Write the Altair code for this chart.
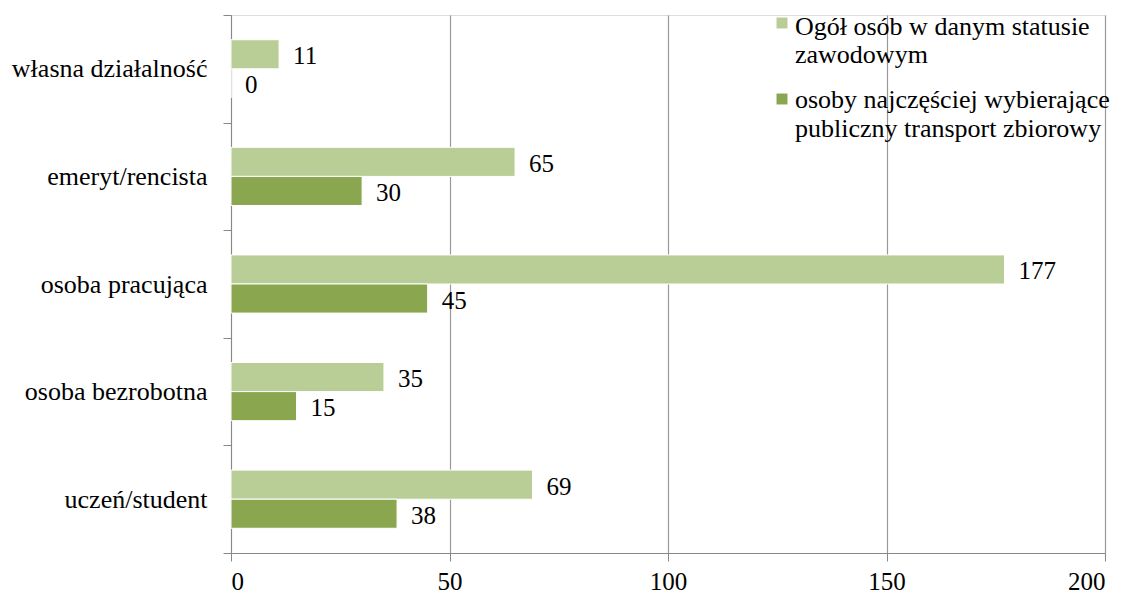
import altair as alt
import pandas as pd

categories = ["własna działalność", "emeryt/rencista", "osoba pracująca", "osoba bezrobotna", "uczeń/student"]
series_names = ["Ogół osób w danym statusie zawodowym", "osoby najczęściej wybierające publiczny transport zbiorowy"]
total_values = [11, 65, 177, 35, 69]
public_values = [0, 30, 45, 15, 38]
colors = ["#B9CD96", "#8AA64E"]
legend_lines = [["Ogół osób w danym statusie", "zawodowym"],
                ["osoby najczęściej wybierające", "publiczny transport zbiorowy"]]

rows = []
for c, t, p in zip(categories, total_values, public_values):
    rows.append({"cat": c, "series": series_names[0], "value": t})
    rows.append({"cat": c, "series": series_names[1], "value": p})
df = pd.DataFrame(rows)

FONT = "'Times New Roman', 'Liberation Serif', 'DejaVu Serif', serif"
W, H = 874, 538

y_enc = alt.Y("cat:N", sort=categories, title=None,
              scale=alt.Scale(paddingInner=0, paddingOuter=0),
              axis=alt.Axis(tickBand="extent", domainColor="#888888", tickColor="#888888",
                            tickSize=8, labelFont=FONT, labelFontSize=26, labelColor="#000000",
                            labelPadding=16, labelLimit=400, grid=False))
yoff = alt.YOffset("series:N", sort=series_names,
                   scale=alt.Scale(paddingOuter=0.85, paddingInner=0))

bars = alt.Chart(df).mark_bar(stroke="white", strokeWidth=1).encode(
    x=alt.X("value:Q", title=None,
            scale=alt.Scale(domain=[0, 200], nice=False),
            axis=alt.Axis(values=[0, 50, 100, 150, 200], grid=True, gridColor="#999999",
                          gridWidth=1.2, domainColor="#888888", tickColor="#888888",
                          tickSize=8, labelFont=FONT, labelFontSize=25, labelColor="#000000",
                          labelPadding=8)),
    y=y_enc,
    yOffset=yoff,
    color=alt.Color("series:N", sort=series_names,
                    scale=alt.Scale(domain=series_names, range=colors), legend=None),
)

labels = alt.Chart(df).mark_text(align="left", baseline="middle", dx=14, dy=2,
                                 font=FONT, fontSize=25, color="#000000").encode(
    x="value:Q", y=alt.Y("cat:N", sort=categories), yOffset=yoff, text="value:Q")

leg_layers = []
sq_y = [8, 84]
line_y = [[12, 40], [85, 114]]
for i in range(2):
    sq = alt.Chart(pd.DataFrame({"s": [series_names[i]]})).mark_square(
        size=120, color=colors[i], opacity=1).encode(x=alt.value(551), y=alt.value(sq_y[i]))
    leg_layers.append(sq)
    for j in range(2):
        t = alt.Chart(pd.DataFrame({"t": [legend_lines[i][j]]})).mark_text(
            align="left", baseline="middle", font=FONT, fontSize=26, color="#000000").encode(
            x=alt.value(564), y=alt.value(line_y[i][j]), text="t:N")
        leg_layers.append(t)

chart = alt.layer(bars, labels, *leg_layers).properties(
    width=W, height=H,
    autosize=alt.AutoSizeParams(type="none"),
    padding={"left": 223, "top": 7, "right": 10, "bottom": 40},
).configure_view(stroke=None).configure(background="white")

chart.save("out.html", embed_options={"renderer": "svg", "actions": False})
